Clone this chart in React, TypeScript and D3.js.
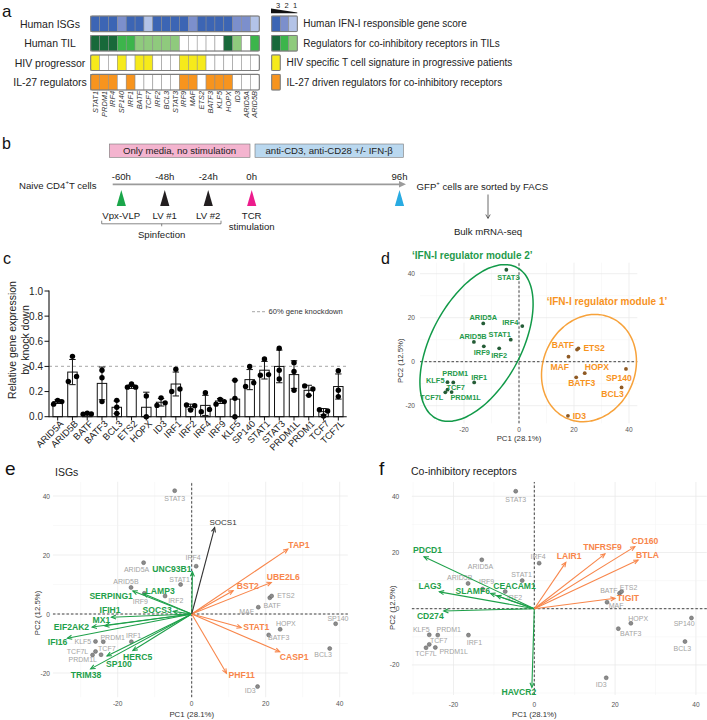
import React from 'react';
import * as d3 from 'd3';

const FONT = "'Liberation Sans', Arial, Helvetica, sans-serif";

// ---------------- Panel a data ----------------
const heatGenes = ['STAT1','PRDM1','IRF4','SP140','IRF1','BATF','TCF7','IRF2','BCL3','STAT3','IRF9','MAF','ETS2','BATF3','KLF5','HOPX','ID3','ARID5A','ARID5B'];
const heatRowLabels = ['Human ISGs','Human TIL','HIV progressor','IL-27 regulators'];
const isgScore = [3,3,3,2,3,3,1,3,3,3,3,2,3,3,3,3,2,2,1];
const tilScore = [3,3,3,2,2,1,1,1,1,1,0,0,0,0,0,3,1,0,2];
const hivSignature = [1,0,0,1,0,1,1,0,0,0,1,1,1,0,0,0,0,0,0];
const il27Regulator = [1,1,1,0,1,0,0,0,0,0,1,1,0,1,1,1,0,0,0];
const heatLegendTexts = [
  'Human IFN-I responsible gene score',
  'Regulators for co-inhibitory receptors in TILs',
  'HIV specific T cell signature in progressive patients',
  'IL-27 driven regulators for co-inhibitory receptors',
];
const scoreLevels = [3,2,1];
const blueColors = ['#ffffff','#b3c3e7','#7c8fcc','#3c65b4'];
const greenColors = ['#ffffff','#8fca7d','#3cb54b','#18693a'];
const yellowColor = '#f6ea1b';
const orangeColor = '#f7941e';

// ---------------- Panel b data ----------------
const timeLabels = ['-60h','-48h','-24h','0h','96h'];
const timeSlots = [0,1,2,3,6.4];
const eventLabels = [['Vpx-VLP'],['LV #1'],['LV #2'],['TCR','stimulation'],[]];
const eventColors = ['#1aa64a','#231f20','#231f20','#ec1c8c','#29abe2'];

// ---------------- Panel c data ----------------
const kdGenes = ['ARID5A','ARID5B','BATF','BATF3','BCL3','ETS2','HOPX','ID3','IRF1','IRF2','IRF4','IRF9','KLF5','SP140','STAT1','STAT3','PRDM1L','PRDM1','TCF7','TCF7L'];
const kdMean = [0.12,0.355,0.025,0.265,0.075,0.24,0.075,0.115,0.26,0.08,0.09,0.125,0.14,0.295,0.37,0.40,0.335,0.21,0.04,0.24];
const kdSD = [0.015,0.10,0.005,0.13,0.05,0.015,0.12,0.03,0.095,0.02,0.08,0.02,0.15,0.08,0.07,0.13,0.11,0.04,0.025,0.10];
const kdPoints = [
  [0.10,0.13,0.12],[0.28,0.48,0.32],[0.02,0.028,0.022],[0.12,0.31,0.37],[0.13,0.075,0.025],
  [0.235,0.26,0.235],[0.165,0.0],[0.09,0.15,0.11],[0.20,0.377,0.22],[0.093,0.053,0.088],
  [0.04,0.19,0.058],[0.10,0.138,0.12],[0.29,0.146,0.0],[0.24,0.40,0.27],[0.33,0.46,0.335],
  [0.545,0.37,0.30],[0.43,0.36,0.21],[0.245,0.17,0.22],[0.055,0.005,0.045],[0.365,0.21,0.16],
];
const yTicksC = [0,0.2,0.4,0.6,0.8,1.0];
const knockdownLine = 0.4;

// ---------------- PCA data (panels d, e, f) ----------------
const pcaGenes = ['STAT3','IRF4','ARID5A','STAT1','ARID5B','IRF9','IRF2','MAF','BATF','ETS2','HOPX','BATF3','SP140','BCL3','ID3','IRF1','PRDM1','KLF5','TCF7','TCF7L','PRDM1L'];
const pc1 = [-4.6,1.2,-13.0,-3.0,-16.4,-12.8,-7.2,18.0,21.1,21.6,23.9,20.8,38.9,37.3,17.8,-16.3,-23.9,-26.0,-26.0,-26.8,-24.5];
const pc2 = [41.8,16.2,17.4,10.0,9.0,7.0,6.1,2.3,5.5,6.1,-5.2,-7.1,-3.3,-11.7,-24.6,-9.4,-9.4,-9.3,-12.7,-13.9,-13.8];
const module1Genes = ['BATF','ETS2','MAF','HOPX','BATF3','SP140','BCL3','ID3'];
// ellipses: centre + two conjugate semi-axis vectors in PC units
const module2Ellipse = [-15.45, 8.5, 14.7, 34.3, 14.4, -9.6];
const module1Ellipse = [25.45, -2.9, 7.8, 23.0, 15.4, -8.1];
const pcTicks = [-20,0,20,40];

const isgArrowGenes = ['UNC93B1','LAMP3','SERPING1','SOCS3','IFIH1','MX1','EIF2AK2','IFI16','TRIM38','SP100','HERC5','TAP1','UBE2L6','BST2','STAT1','CASP1','PHF11','SOCS1'];
const isgArrowPC1 = [0.2,-13,-15.9,-5,-21.7,-23.5,-26.9,-33.6,-27.3,-22.9,-15.9,26,21.5,11.2,13.4,23.8,9.4,6.2];
const isgArrowPC2 = [14.3,6.9,7.8,0.9,-1.1,-4,-4.4,-8.2,-18.6,-14.2,-12.4,22,10.7,7.9,-4.6,-12.8,-20.1,29.3];
const isgArrowGroup = ['g','g','g','g','g','g','g','g','g','g','g','o','o','o','o','o','o','k'];

const coinhArrowGenes = ['PDCD1','LAG3','CD274','SLAMF6','CEACAM1','HAVCR2','LAIR1','TNFRSF9','CD160','BTLA','TIGIT'];
const coinhArrowPC1 = [-27.3,-23.5,-22.4,-10.8,-9.3,-0.6,7.8,17.5,24.9,25.7,20];
const coinhArrowPC2 = [18.5,6.0,-0.8,5.4,4.6,-28,16.5,19.5,22.1,17.3,3.7];
const coinhArrowGroup = ['g','g','g','g','g','g','o','o','o','o','o'];

// ---------------- label placement (layout only, px offsets) ----------------
type Lab = [string, number, number];
const dLabelPos: Record<string, Lab> = {
  STAT3:['middle',2,8], ARID5A:['middle',0,-6], IRF4:['end',-4,-3.5], STAT1:['middle',-11,-5],
  ARID5B:['middle',-1,-5], IRF9:['middle',-2,6.5], IRF2:['middle',0,7], IRF1:['middle',5,-5],
  PRDM1:['middle',2,-9], KLF5:['end',-3,-1.5], TCF7:['start',-1,-2], TCF7L:['end',-2,5.5],
  PRDM1L:['middle',14,5.7], BATF:['end',-3,-4.5], ETS2:['start',5,-0.5], MAF:['end',0.5,10],
  HOPX:['start',0,-6.4], BATF3:['middle',5.5,5.4], SP140:['middle',-7,8.7], BCL3:['middle',-9,6.6],
  ID3:['start',4.7,0],
};
const eGrayPos: Record<string, Lab> = {
  STAT3:['middle',0,8], IRF4:['middle',-3,-9], ARID5A:['middle',-7,7], STAT1:['middle',-1,-5],
  ARID5B:['middle',-5,-6], IRF9:['middle',-4,8], IRF2:['middle',10.7,4.3], MAF:['middle',-11.7,4],
  BATF:['middle',2.4,7.7], ETS2:['middle',14.3,-1], HOPX:['middle',5.7,-6], BATF3:['middle',10,2.6],
  SP140:['middle',2.3,-5.7], BCL3:['middle',-6.6,6], ID3:['middle',-7.4,4.4], IRF1:['middle',2.3,-6.3],
  PRDM1:['middle',9.4,-4.6], KLF5:['middle',-12.6,0], TCF7:['middle',11.3,-3.4], TCF7L:['middle',-15,-3.2],
  PRDM1L:['middle',-18.3,4.5],
};
const fGrayPos: Record<string, Lab> = {
  STAT3:['middle',0,8], IRF4:['middle',-1,-6.7], ARID5A:['middle',-1.3,6.4], STAT1:['middle',-0.6,-6.3],
  ARID5B:['middle',-8.3,-6], IRF9:['middle',4,-7.3], IRF2:['middle',9.3,6], BATF:['middle',-10.7,-2.3],
  ETS2:['middle',7,-3.6], MAF:['middle',9,3.3], HOPX:['middle',7.3,-4.4], BATF3:['middle',12.4,5],
  SP140:['middle',-7.3,6], BCL3:['middle',-2.7,7.3], ID3:['middle',-5,6.6], IRF1:['middle',6,7.4],
  KLF5:['middle',-8,-5.3], PRDM1:['middle',11,-5.3], TCF7:['middle',9.4,-4], TCF7L:['middle',0,5.6],
  PRDM1L:['middle',18.3,4],
};
const eArrowPos: Record<string, Lab> = {
  UNC93B1:['end',-1,-3], LAMP3:['start',2,-3], SERPING1:['end',0,4.7], SOCS3:['end',-1.5,-1.3],
  IFIH1:['middle',-1.4,-7.2], MX1:['middle',-3.4,-5.8], EIF2AK2:['end',-3,0], IFI16:['end',0,4],
  TRIM38:['middle',-4.7,6], SP100:['start',-1,8], HERC5:['middle',4.8,6], TAP1:['start',0.4,-4],
  UBE2L6:['start',-4.5,-5.7], BST2:['start',3.6,-4.7], STAT1:['start',2,-1], CASP1:['start',0,5],
  PHF11:['start',2,2], SOCS1:['middle',8.4,-5],
};
const fArrowPos: Record<string, Lab> = {
  PDCD1:['middle',3.5,-6.7], LAG3:['middle',-9.4,-5.8], CD274:['middle',-13.5,4.7], SLAMF6:['end',-0.7,-2.5],
  CEACAM1:['start',-3.4,-9.8], HAVCR2:['middle',-13,4.3], LAIR1:['middle',3.4,-6.6], TNFRSF9:['middle',-2.5,-7.2],
  CD160:['middle',10,-6], BTLA:['middle',9.4,-5], TIGIT:['start',2,0],
};

const GREEN_D = '#1f9a4b';
const ORANGE_D = '#f7931e';
const GREEN_E = '#1ea04a';
const ORANGE_E = '#f8864b';
const GRAY_LAB = '#a3a3a3';

function linearFrom(domain: [number, number], origin: number, ppu: number) {
  return d3.scaleLinear().domain(domain).range([origin + domain[0] * ppu, origin + domain[1] * ppu]);
}

function arrowHeadPath(x1: number, y1: number, x2: number, y2: number, len = 5, ang = 0.42) {
  const a = Math.atan2(y2 - y1, x2 - x1);
  const p1 = [x2 - len * Math.cos(a - ang), y2 - len * Math.sin(a - ang)];
  const p2 = [x2 - len * Math.cos(a + ang), y2 - len * Math.sin(a + ang)];
  return `M${p1[0]},${p1[1]}L${x2},${y2}L${p2[0]},${p2[1]}`;
}

// ---------------- Panel a ----------------
function PanelA() {
  const x = d3.scaleBand().domain(heatGenes).range([90.7, 259.3]);
  const y = d3.scaleBand().domain(heatRowLabels).range([16, 90]).paddingInner(0.2);
  const bw = x.bandwidth();
  const bh = y.bandwidth();
  const rows = [
    heatGenes.map((_, i) => blueColors[isgScore[i]]),
    heatGenes.map((_, i) => greenColors[tilScore[i]]),
    heatGenes.map((_, i) => (hivSignature[i] ? yellowColor : '#ffffff')),
    heatGenes.map((_, i) => (il27Regulator[i] ? orangeColor : '#ffffff')),
  ];
  const lx = d3.scaleBand<number>().domain(scoreLevels).range([271.7, 297.3]);
  const legendFill = [
    scoreLevels.map((s) => blueColors[s]),
    scoreLevels.map((s) => greenColors[s]),
    [yellowColor],
    [orangeColor],
  ];
  return (
    <g>
      <text x={2} y={16.5} fontSize={17} fill="#111">a</text>
      {heatRowLabels.map((r, ri) => (
        <g key={r}>
          <text x={50} y={(y(r) as number) + bh / 2} fontSize={10.5} textAnchor="middle" dominantBaseline="central" fill="#222">{r}</text>
          {heatGenes.map((g, gi) => (
            <rect key={g} x={x(g)} y={y(r)} width={bw} height={bh} fill={rows[ri][gi]} stroke="#8a8a8a" strokeWidth={0.5} />
          ))}
          <rect x={90.7} y={y(r)} width={259.3 - 90.7} height={bh} fill="none" stroke="#7d7d7d" strokeWidth={1.1} rx={1.5} />
          {legendFill[ri].map((c, li) => (
            <rect key={li} x={lx(scoreLevels[li])} y={y(r)} width={lx.bandwidth()} height={bh} fill={c} stroke="#8a8a8a" strokeWidth={0.5} />
          ))}
          <rect x={271.7} y={y(r)} width={lx.bandwidth() * legendFill[ri].length} height={bh} fill="none" stroke="#7d7d7d" strokeWidth={1} rx={1} />
          <text x={legendFill[ri].length > 1 ? 303.3 : 286.5} y={(y(r) as number) + bh / 2} fontSize={10} dominantBaseline="central" fill="#222">{heatLegendTexts[ri]}</text>
        </g>
      ))}
      {scoreLevels.map((s) => (
        <text key={s} x={(lx(s) as number) + lx.bandwidth() / 2 + 2} y={5} fontSize={7.5} textAnchor="middle" dominantBaseline="central" fill="#222">{s}</text>
      ))}
      <path d="M271,8.6 L297.3,12.6 L297.3,13.3 L271,13.3 Z" fill="#111" />
      {heatGenes.map((g) => (
        <text key={g} transform={`translate(${(x(g) as number) + bw / 2},91) rotate(-90)`} fontSize={7.4} fontStyle="italic" textAnchor="end" dy="0.35em" fill="#333">{g}</text>
      ))}
    </g>
  );
}

// ---------------- Panel b ----------------
function PanelB() {
  const tx = d3.scaleLinear().domain([0, 3]).range([121.3, 251.7]);
  return (
    <g fontSize={9.6} fill="#222">
      <text x={2} y={149} fontSize={16} fill="#111">b</text>
      <rect x={109.3} y={144} width={140.7} height={13.3} fill="#f4b4cf" stroke="#777" strokeWidth={0.6} />
      <text x={179.6} y={150.8} textAnchor="middle" dominantBaseline="central">Only media, no stimulation</text>
      <rect x={255} y={144} width={148.4} height={13.3} fill="#bad8ef" stroke="#777" strokeWidth={0.6} />
      <text x={329.2} y={150.8} textAnchor="middle" dominantBaseline="central">anti-CD3, anti-CD28 +/- IFN-β</text>
      <text x={19} y={185} dominantBaseline="central">Naive CD4<tspan fontSize={6} dy={-3.5}>+</tspan><tspan dy={3.5}>T cells</tspan></text>
      <line x1={112.7} x2={400} y1={184.3} y2={184.3} stroke="#9b9b9b" strokeWidth={1.8} />
      <path d="M399,181 L406,184.3 L399,187.6 Z" fill="#9b9b9b" />
      {timeLabels.map((t, i) => {
        const cx = tx(timeSlots[i]);
        return (
          <g key={t}>
            <text x={cx} y={176.7} textAnchor="middle" dominantBaseline="central">{t}</text>
            <path d={`M${cx},190 L${cx + 4.6},206 L${cx - 4.6},206 Z`} fill={eventColors[i]} />
            {eventLabels[i].map((l, li) => (
              <text key={l} x={cx} y={215 + li * 11.7} textAnchor="middle" dominantBaseline="central">{l}</text>
            ))}
          </g>
        );
      })}
      <path d="M101.7,220.7 V223.8 H221 V220.7 M161.7,223.8 V226.3" fill="none" stroke="#555" strokeWidth={0.7} />
      <text x={161.7} y={234} textAnchor="middle" dominantBaseline="central">Spinfection</text>
      <text x={416.6} y={186} dominantBaseline="central">GFP<tspan fontSize={6} dy={-3.5}>+</tspan><tspan dy={3.5}> cells are sorted by FACS</tspan></text>
      <line x1={488} x2={488} y1={194.5} y2={218} stroke="#444" strokeWidth={0.8} />
      <path d="M485.8,214.5 L488,218.5 L490.2,214.5" fill="none" stroke="#444" strokeWidth={0.8} />
      <text x={488} y={231} textAnchor="middle" dominantBaseline="central">Bulk mRNA-seq</text>
    </g>
  );
}

// ---------------- Panel c ----------------
function PanelC() {
  const x = d3.scaleBand().domain(kdGenes).range([50, 346]).paddingInner(0.36).paddingOuter(0.2);
  const y = d3.scaleLinear().domain([0, 1]).range([416.7, 291]);
  const bw = x.bandwidth();
  const r = 2.7;
  const dx = 4.1;
  return (
    <g>
      <text x={3} y={264} fontSize={16} fill="#111">c</text>
      <text transform="translate(15.5,340) rotate(-90)" fontSize={10.5} textAnchor="middle" fill="#222">Relative gene expression</text>
      <text transform="translate(28.8,340) rotate(-90)" fontSize={10.5} textAnchor="middle" fill="#222">by knock down</text>
      <line x1={49} x2={346} y1={y(knockdownLine)} y2={y(knockdownLine)} stroke="#b8b8b8" strokeWidth={1.3} strokeDasharray="3,3" />
      <line x1={252} x2={265} y1={311.7} y2={311.7} stroke="#b8b8b8" strokeWidth={1.3} strokeDasharray="3,2" />
      <text x={268.5} y={311.7} fontSize={7.6} dominantBaseline="central" fill="#333">60% gene knockdown</text>
      {kdGenes.map((g, i) => {
        const cx = (x(g) as number) + bw / 2;
        const m = kdMean[i];
        const lo = Math.max(0, m - kdSD[i]);
        const hi = m + kdSD[i];
        const pts = kdPoints[i];
        const py = pts.map((v) => y(v));
        const offs = pts.map((_, pi) => {
          const collides = py.some((q, qi) => qi !== pi && Math.abs(q - py[pi]) < 2 * r);
          return collides ? (pi - (pts.length - 1) / 2) * dx * (pts.length === 3 ? 1 : 2) : 0;
        });
        return (
          <g key={g}>
            <rect x={cx - bw / 2} y={y(m)} width={bw} height={y(0) - y(m)} fill="#fff" stroke="#111" strokeWidth={1} />
            <line x1={cx} x2={cx} y1={y(lo)} y2={y(hi)} stroke="#111" strokeWidth={1} />
            <line x1={cx - 3.2} x2={cx + 3.2} y1={y(hi)} y2={y(hi)} stroke="#111" strokeWidth={1} />
            <line x1={cx - 3.2} x2={cx + 3.2} y1={y(lo)} y2={y(lo)} stroke="#111" strokeWidth={1} />
            {pts.map((v, pi) => (
              <circle key={pi} cx={cx + offs[pi]} cy={y(v)} r={r} fill="#000" />
            ))}
            <line x1={cx} x2={cx} y1={416.7} y2={420.5} stroke="#111" strokeWidth={1} />
            <text transform={`translate(${cx + 4},422) rotate(-45)`} fontSize={9.4} textAnchor="end" dy="0.35em" fill="#222">{g}</text>
          </g>
        );
      })}
      <line x1={49} x2={49} y1={290.5} y2={417.2} stroke="#111" strokeWidth={1.1} />
      <line x1={49} x2={346.7} y1={416.7} y2={416.7} stroke="#111" strokeWidth={1.1} />
      {yTicksC.map((t) => (
        <g key={t}>
          <line x1={44.5} x2={49} y1={y(t)} y2={y(t)} stroke="#111" strokeWidth={1} />
          <text x={43} y={y(t)} fontSize={10} textAnchor="end" dominantBaseline="central" fill="#222">{d3.format('.1f')(t)}</text>
        </g>
      ))}
    </g>
  );
}

// ---------------- Biplot frame ----------------
function Frame({ xs, ys, xTickY, yTickX, pc1Y, pc2X }: any) {
  const [x0, x1] = xs.range();
  const [yb, yt] = ys.range();
  const xd = xs.domain();
  const yd = ys.domain();
  const gx = d3.range(Math.ceil(xd[0] / 10) * 10, xd[1] + 0.001, 10);
  const gy = d3.range(Math.ceil(yd[0] / 10) * 10, yd[1] + 0.001, 10);
  return (
    <g>
      {gx.map((v) => (
        <line key={'gx' + v} x1={xs(v)} x2={xs(v)} y1={yb} y2={yt} stroke={v % 20 === 0 ? '#e8e8e8' : '#f3f3f3'} strokeWidth={v % 20 === 0 ? 0.7 : 0.5} />
      ))}
      {gy.map((v) => (
        <line key={'gy' + v} x1={x0} x2={x1} y1={ys(v)} y2={ys(v)} stroke={v % 20 === 0 ? '#e8e8e8' : '#f3f3f3'} strokeWidth={v % 20 === 0 ? 0.7 : 0.5} />
      ))}
      <line x1={x0} x2={x1} y1={ys(0)} y2={ys(0)} stroke="#444" strokeWidth={1} strokeDasharray="2.5,2" />
      <line x1={xs(0)} x2={xs(0)} y1={yb} y2={yt} stroke="#444" strokeWidth={1} strokeDasharray="2.5,2" />
      {pcTicks.map((t) => (
        <text key={'xt' + t} x={xs(t)} y={xTickY} fontSize={6.6} textAnchor="middle" dominantBaseline="central" fill="#555">{t}</text>
      ))}
      {pcTicks.filter((t) => t >= yd[0] && t <= yd[1]).map((t) => (
        <text key={'yt' + t} x={yTickX} y={ys(t)} fontSize={6.6} textAnchor="end" dominantBaseline="central" fill="#555">{t}</text>
      ))}
      <text x={xs(0)} y={pc1Y} fontSize={7.8} textAnchor="middle" dominantBaseline="central" fill="#333">PC1 (28.1%)</text>
      <text transform={`translate(${pc2X},${ys(0) - 1}) rotate(-90)`} fontSize={7.8} textAnchor="middle" dominantBaseline="central" fill="#333">PC2 (12.5%)</text>
    </g>
  );
}

function ellipsePath(e: number[], xs: any, ys: any) {
  const pts = d3.range(0, 361, 4).map((deg) => {
    const t = (deg * Math.PI) / 180;
    return [xs(e[0] + e[2] * Math.cos(t) + e[4] * Math.sin(t)), ys(e[1] + e[3] * Math.cos(t) + e[5] * Math.sin(t))] as [number, number];
  });
  return d3.line().curve(d3.curveCardinalClosed)(pts.slice(0, -1)) as string;
}

// ---------------- Panel d ----------------
function PanelD() {
  const xs = linearFrom([-36, 43], 519, 2.75);
  const ys = linearFrom([-28, 45], 361.7, -2.2);
  return (
    <g>
      <text x={381} y={264} fontSize={16} fill="#111">d</text>
      <Frame xs={xs} ys={ys} xTickY={429.3} yTickX={415} pc1Y={438.3} pc2X={400} />
      <path d={ellipsePath(module2Ellipse, xs, ys)} fill="none" stroke="#129a49" strokeWidth={1.5} />
      <path d={ellipsePath(module1Ellipse, xs, ys)} fill="none" stroke="#f7a23b" strokeWidth={1.5} />
      <text x={412} y={259} fontSize={10} fontWeight="bold" fill={GREEN_D}>{'\u2018IFN-I regulator module 2\u2019'}</text>
      <text x={546.7} y={305} fontSize={10} fontWeight="bold" fill={ORANGE_D}>{'\u2018IFN-I regulator module 1\u2019'}</text>
      {pcaGenes.map((g, i) => {
        const m1 = module1Genes.includes(g);
        const px = xs(pc1[i]);
        const py = ys(pc2[i]);
        const [anc, ox, oy] = dLabelPos[g];
        return (
          <g key={g}>
            <circle cx={px} cy={py} r={1.9} fill={m1 ? '#8f5a24' : '#245c36'} />
            <text x={px + ox} y={py + oy} fontSize={m1 ? 8.6 : 7.4} fontWeight="bold" textAnchor={anc as any} dominantBaseline="central" fill={m1 ? ORANGE_D : GREEN_D}>{g}</text>
          </g>
        );
      })}
    </g>
  );
}

// ---------------- Panels e / f ----------------
function Biplot({ xs, ys, grayPos, arrowGenes, arrowPC1, arrowPC2, arrowGroup, arrowPos, frame }: any) {
  const ox = xs(0);
  const oy = ys(0);
  const colorOf = (g: string) => (g === 'g' ? GREEN_E : g === 'o' ? ORANGE_E : '#333');
  return (
    <g>
      <Frame xs={xs} ys={ys} {...frame} />
      {pcaGenes.map((g, i) => {
        const px = xs(pc1[i]);
        const py = ys(pc2[i]);
        const [anc, dx, dy] = grayPos[g];
        return (
          <g key={g}>
            <circle cx={px} cy={py} r={2} fill="#8c8c8c" stroke="#5a5a5a" strokeWidth={0.5} />
            <text x={px + dx} y={py + dy} fontSize={7} textAnchor={anc} dominantBaseline="central" fill={GRAY_LAB}>{g}</text>
          </g>
        );
      })}
      {arrowGenes.map((g: string, i: number) => {
        const tx = xs(arrowPC1[i]);
        const ty = ys(arrowPC2[i]);
        const c = colorOf(arrowGroup[i]);
        return (
          <g key={g}>
            <line x1={ox} y1={oy} x2={tx} y2={ty} stroke={c} strokeWidth={1.1} />
            <path d={arrowHeadPath(ox, oy, tx, ty)} fill="none" stroke={c} strokeWidth={1.1} />
          </g>
        );
      })}
      {arrowGenes.map((g: string, i: number) => {
        const tx = xs(arrowPC1[i]);
        const ty = ys(arrowPC2[i]);
        const [anc, dx, dy] = arrowPos[g];
        const grp = arrowGroup[i];
        return (
          <text key={'l' + g} x={tx + dx} y={ty + dy} fontSize={grp === 'k' ? 8 : 8.6} fontWeight={grp === 'k' ? 'normal' : 'bold'} textAnchor={anc} dominantBaseline="central" fill={colorOf(grp)}>{g}</text>
        );
      })}
    </g>
  );
}

function PanelE() {
  const xs = linearFrom([-37.5, 42.2], 191.7, 3.7);
  const ys = linearFrom([-28.2, 44.8], 614, -2.95);
  return (
    <g>
      <text x={5} y={474.5} fontSize={19} fill="#111">e</text>
      <text x={55} y={471.5} fontSize={10.5} dominantBaseline="central" fill="#222">ISGs</text>
      <Biplot xs={xs} ys={ys} grayPos={eGrayPos} arrowGenes={isgArrowGenes} arrowPC1={isgArrowPC1} arrowPC2={isgArrowPC2}
        arrowGroup={isgArrowGroup} arrowPos={eArrowPos} frame={{ xTickY: 703, yTickX: 50, pc1Y: 714, pc2X: 37 }} />
    </g>
  );
}

function PanelF() {
  const xs = linearFrom([-30.3, 42.7], 534.3, 4.04);
  const ys = linearFrom([-30.7, 45.1], 608.7, -2.81);
  return (
    <g>
      <text x={379} y={474.5} fontSize={19} fill="#111">f</text>
      <text x={411} y={471} fontSize={10.5} dominantBaseline="central" fill="#222">Co-inhibitory receptors</text>
      <Biplot xs={xs} ys={ys} grayPos={fGrayPos} arrowGenes={coinhArrowGenes} arrowPC1={coinhArrowPC1} arrowPC2={coinhArrowPC2}
        arrowGroup={coinhArrowGroup} arrowPos={fArrowPos} frame={{ xTickY: 704.3, yTickX: 399.3, pc1Y: 714.3, pc2X: 392.7 }} />
    </g>
  );
}

export default function App() {
  return (
    <svg width={707} height={720} viewBox="0 0 707 720" fontFamily={FONT}
      style={{ position: 'absolute', left: 0, top: 0, background: '#fff', display: 'block' }}>
      <rect x={0} y={0} width={707} height={720} fill="#fff" />
      <PanelA />
      <PanelB />
      <PanelC />
      <PanelD />
      <PanelE />
      <PanelF />
    </svg>
  );
}
